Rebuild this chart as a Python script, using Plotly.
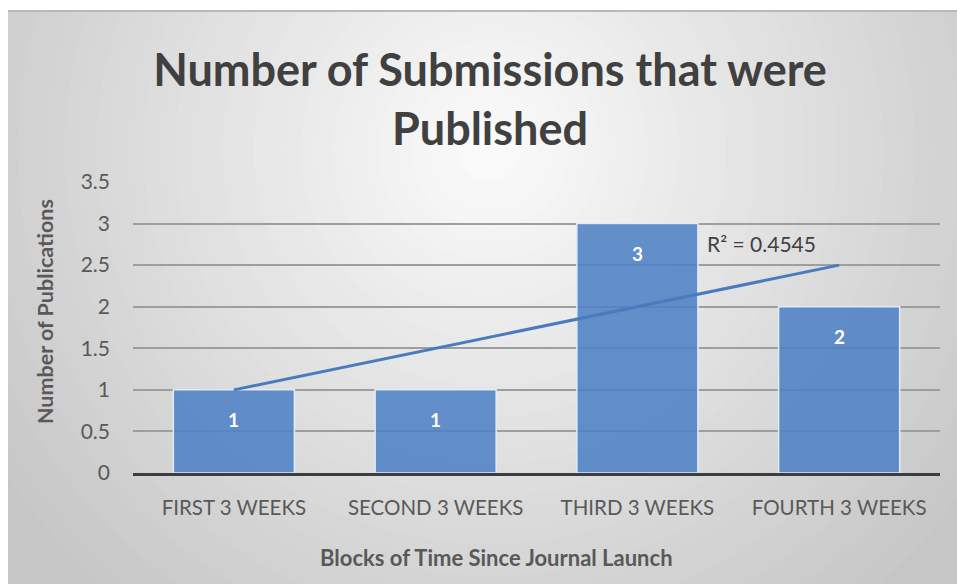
import numpy as np
import plotly.graph_objects as go

# ---- data ----
categories = ["FIRST 3 WEEKS", "SECOND 3 WEEKS", "THIRD 3 WEEKS", "FOURTH 3 WEEKS"]
publications = [1, 1, 3, 2]
y_ticks = [0, 0.5, 1, 1.5, 2, 2.5, 3, 3.5]
y_tick_labels = ["0", "0.5", "1", "1.5", "2", "2.5", "3", "3.5"]
title_text = "Number of Submissions that were<br>Published"
x_title = "Blocks of Time Since Journal Launch"
y_title = "Number of Publications"

# linear trendline (Excel-style) from the data
xs = np.arange(1, len(publications) + 1)
slope, intercept = np.polyfit(xs, publications, 1)
fit = slope * xs + intercept
ss_res = float(np.sum((np.array(publications) - fit) ** 2))
ss_tot = float(np.sum((np.array(publications) - np.mean(publications)) ** 2))
r2 = 1 - ss_res / ss_tot

W, H = 957, 584
PL, PR, PT, PB = 133, 940, 182, 473
PW, PH = PR - PL, PB - PT

def px2x(px):
    return (px - PL) / PW

def py2y(py):
    return (PB - py) / PH

FONT = "Lato"
TXT = "#595959"

fig = go.Figure()
fig.add_trace(go.Bar(
    x=categories, y=publications,
    marker=dict(color="rgba(79,129,197,0.88)",
                line=dict(color="rgba(225,236,248,1)", width=1.5)),
    showlegend=False, hoverinfo="x+y",
))
fig.add_trace(go.Scatter(
    x=categories, y=fit, mode="lines",
    line=dict(color="#4a7cbd", width=3),
    showlegend=False, hoverinfo="skip",
))

annotations = []
for c, v in zip(categories, publications):
    annotations.append(dict(
        x=c, y=v, xref="x", yref="y", text=f"<b>{v}</b>", showarrow=False,
        xanchor="center", yanchor="middle",
        yshift=-30, font=dict(family=FONT, size=19, color="white"),
    ))
annotations.append(dict(
    x=2.335, y=2.76, xref="x", yref="y", xanchor="left", yanchor="middle",
    text=f"R\u00b2 = {r2:.4f}", showarrow=False,
    font=dict(family=FONT, size=21, color="#404040"),
))
annotations.append(dict(
    x=px2x(496), y=py2y(557), xref="paper", yref="paper",
    xanchor="center", yanchor="middle",
    text=f"<b>{x_title}</b>", showarrow=False,
    font=dict(family=FONT, size=22, color=TXT),
))
annotations.append(dict(
    x=px2x(45), y=py2y(312), xref="paper", yref="paper", textangle=-90,
    xanchor="center", yanchor="middle",
    text=f"<b>{y_title}</b>", showarrow=False,
    font=dict(family=FONT, size=21.5, color=TXT),
))

# background: radial gradient approximated by stacked ellipses
shapes = []
cx, cy = 490, 150
RX, RY = 560, 560
N = 48
tmax = 1.35
for i in range(N):
    t = tmax * (N - i) / N
    tm = tmax * (N - i - 0.5) / N
    v = int(round(max(198, 251 - 50 * tm)))
    col = f"rgb({v},{v},{v})"
    shapes.append(dict(
        type="circle", xref="paper", yref="paper", layer="below",
        x0=px2x(cx - t * RX), x1=px2x(cx + t * RX),
        y0=py2y(cy + t * RY), y1=py2y(cy - t * RY),
        fillcolor=col, line=dict(width=0),
    ))
# white outer margin (left and top strips)
shapes.append(dict(type="rect", xref="paper", yref="paper", layer="below",
                   x0=px2x(-20), x1=px2x(8), y0=py2y(700), y1=py2y(-20),
                   fillcolor="white", line=dict(width=0)))
shapes.append(dict(type="rect", xref="paper", yref="paper", layer="below",
                   x0=px2x(-20), x1=px2x(1000), y0=py2y(10), y1=py2y(-20),
                   fillcolor="white", line=dict(width=0)))
shapes.append(dict(type="line", xref="paper", yref="paper", layer="below",
                   x0=px2x(8), x1=px2x(960), y0=py2y(11), y1=py2y(11),
                   line=dict(color="#b9b9b9", width=2)))

fig.update_layout(
    width=W, height=H,
    margin=dict(l=PL, r=W - PR, t=PT, b=H - PB, pad=0),
    paper_bgcolor="white", plot_bgcolor="rgba(0,0,0,0)",
    bargap=0.4,
    title=dict(text=f"<b>{title_text}</b>", x=490 / W, xref="container",
               y=1 - 86 / H, yref="container", xanchor="center", yanchor="middle",
               font=dict(family=FONT, size=45, color="#404040")),
    xaxis=dict(showgrid=False, showline=True, linecolor="#3d3d3d", linewidth=3,
               ticks="", tickfont=dict(family=FONT, size=20.5, color=TXT),
               ticklabelstandoff=14, zeroline=False, fixedrange=True),
    yaxis=dict(range=[0, 3.5], tickvals=y_ticks, ticktext=y_tick_labels,
               showgrid=True, gridcolor="#9e9e9e", gridwidth=2,
               showline=False, zeroline=False, ticks="",
               tickfont=dict(family=FONT, size=21, color=TXT),
               ticklabelstandoff=22, fixedrange=True),
    annotations=annotations, shapes=shapes,
)

fig.write_html("out.html")
